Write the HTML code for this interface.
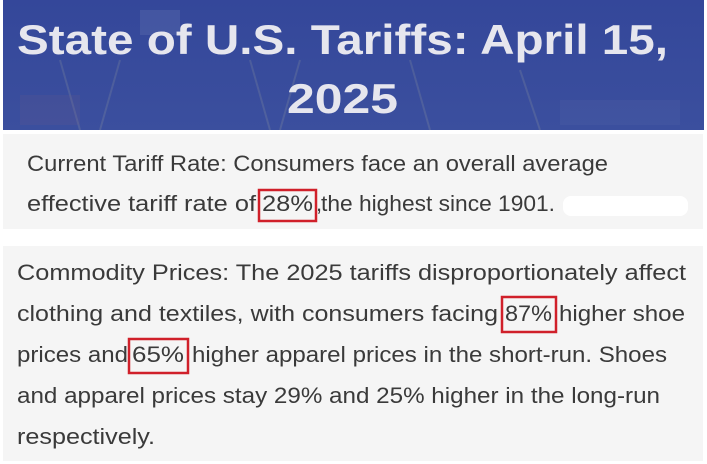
<!DOCTYPE html>
<html><head><meta charset="utf-8"><style>
html,body{margin:0;padding:0;background:#fff;}
svg{display:block;}
</style></head><body>
<svg width="707" height="464" viewBox="0 0 707 464" xmlns="http://www.w3.org/2000/svg">
<defs>
<linearGradient id="bg" x1="0" y1="0" x2="0" y2="1">
<stop offset="0" stop-color="#34479a"/><stop offset="1" stop-color="#3b4f9e"/>
</linearGradient>
</defs>
<rect x="0" y="0" width="707" height="464" fill="#ffffff"/>
<rect x="3" y="0" width="701" height="130" fill="url(#bg)"/>
<g opacity="0.15" stroke="#c8c8a0" stroke-width="2" fill="none">
<path d="M60 60 L80 130 M120 60 L100 130 M250 60 L270 130 M300 60 L280 130 M410 60 L430 130 M520 70 L540 130"/>
</g>
<g opacity="0.2">
<rect x="20" y="95" width="60" height="30" fill="#6a5a8a"/>
<rect x="560" y="100" width="120" height="25" fill="#5a6aa8"/>
<rect x="140" y="10" width="40" height="25" fill="#8090c0"/>
</g>
<g font-family="'Liberation Sans', sans-serif" font-weight="bold" fill="#e6e6ee" font-size="42">
<text x="17" y="54" textLength="651" lengthAdjust="spacingAndGlyphs">State of U.S. Tariffs: April 15,</text>
<text x="287" y="113" textLength="111" lengthAdjust="spacingAndGlyphs">2025</text>
</g>
<rect x="3" y="134" width="700" height="95" fill="#f5f5f5"/>
<rect x="3" y="246" width="700" height="215" fill="#f5f5f5"/>
<g font-family="'Liberation Sans', sans-serif" fill="#3a3a3a" font-size="22">
<text x="27" y="171" textLength="581" lengthAdjust="spacingAndGlyphs">Current Tariff Rate: Consumers face an overall average</text>
<text x="27" y="211" textLength="229" lengthAdjust="spacingAndGlyphs">effective tariff rate of</text>
<text x="262" y="211" textLength="51" lengthAdjust="spacingAndGlyphs">28%</text>
<text x="316" y="211">,</text>
<text x="321" y="211" textLength="234" lengthAdjust="spacingAndGlyphs">the highest since 1901.</text>
<text x="17" y="280" textLength="669" lengthAdjust="spacingAndGlyphs">Commodity Prices: The 2025 tariffs disproportionately affect</text>
<text x="17" y="321" textLength="481" lengthAdjust="spacingAndGlyphs">clothing and textiles, with consumers facing</text>
<text x="505" y="321" textLength="47" lengthAdjust="spacingAndGlyphs">87%</text>
<text x="559" y="321" textLength="126" lengthAdjust="spacingAndGlyphs">higher shoe</text>
<text x="17" y="362" textLength="111" lengthAdjust="spacingAndGlyphs">prices and</text>
<text x="132" y="362" textLength="52" lengthAdjust="spacingAndGlyphs">65%</text>
<text x="192" y="362" textLength="475" lengthAdjust="spacingAndGlyphs">higher apparel prices in the short-run. Shoes</text>
<text x="17" y="403" textLength="643" lengthAdjust="spacingAndGlyphs">and apparel prices stay 29% and 25% higher in the long-run</text>
<text x="17" y="444" textLength="138" lengthAdjust="spacingAndGlyphs">respectively.</text>
</g>
<rect x="563" y="196" width="125" height="20" rx="8" fill="#ffffff"/>
<g fill="none" stroke="#d0202a" stroke-width="2.5">
<rect x="259" y="190" width="57" height="31"/>
<rect x="502" y="297" width="54" height="35"/>
<rect x="129" y="339" width="59" height="34"/>
</g>
</svg>
</body></html>
